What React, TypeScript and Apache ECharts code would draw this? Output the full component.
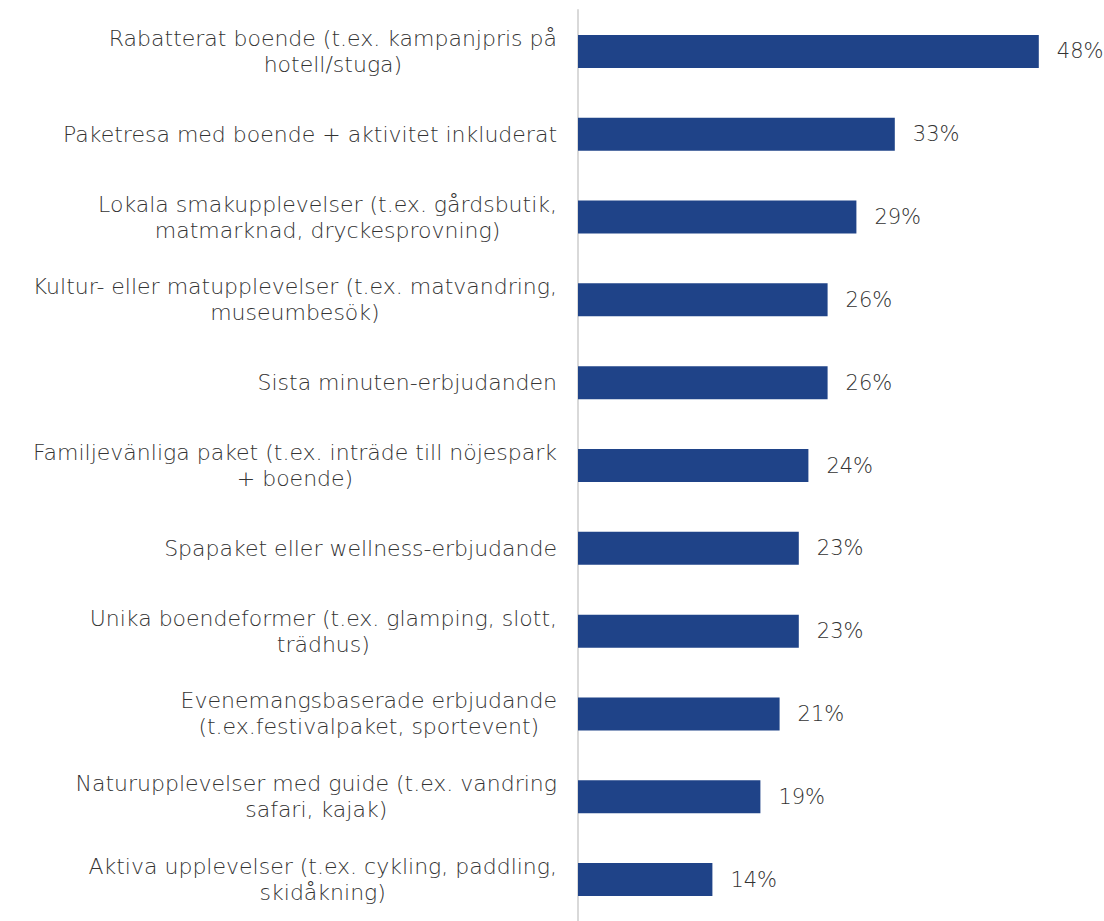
import React, { useEffect, useRef } from "react";
import * as echarts from "echarts";

const categories: string[][] = [
  ["Rabatterat boende (t.ex. kampanjpris på", "hotell/stuga)"],
  ["Paketresa med boende + aktivitet inkluderat"],
  ["Lokala smakupplevelser (t.ex. gårdsbutik,", "matmarknad, dryckesprovning)"],
  ["Kultur- eller matupplevelser (t.ex. matvandring,", "museumbesök)"],
  ["Sista minuten-erbjudanden"],
  ["Familjevänliga paket (t.ex. inträde till nöjespark", "+ boende)"],
  ["Spapaket eller wellness-erbjudande"],
  ["Unika boendeformer (t.ex. glamping, slott,", "trädhus)"],
  ["Evenemangsbaserade erbjudande", "(t.ex.festivalpaket, sportevent)"],
  ["Naturupplevelser med guide (t.ex. vandring", "safari, kajak)"],
  ["Aktiva upplevelser (t.ex. cykling, paddling,", "skidåkning)"],
];

const values: number[] = [48, 33, 29, 26, 26, 24, 23, 23, 21, 19, 14];

const FONT = "'DejaVu Sans', sans-serif";
const TEXT_COLOR = "#333333";

export default function App() {
  const ref = useRef<HTMLDivElement>(null);
  useEffect(() => {
    if (!ref.current) return;
    const chart = echarts.init(ref.current, undefined, { renderer: "svg" });
    const catNames = categories.map((c) => c.join("\n"));
    chart.setOption({
      animation: false,
      backgroundColor: "#ffffff",
      grid: { left: 578, right: 46, top: 10, bottom: -5, containLabel: false },
      xAxis: {
        type: "value",
        min: 0,
        max: 50,
        show: false,
      },
      yAxis: {
        type: "category",
        inverse: true,
        data: catNames,
        axisLine: { show: true, lineStyle: { color: "#d9d9d9", width: 2 } },
        axisTick: { show: false },
        axisLabel: {
          margin: 21,
          align: "right",
          fontFamily: FONT,
          fontSize: 22,
          fontWeight: 200,
          color: TEXT_COLOR,
          lineHeight: 26,
          formatter: (v: string) =>
            v
              .split("\n")
              .map((l) => "{c|" + l + "}")
              .join("\n"),
          rich: {
            c: {
              align: "center",
              fontFamily: FONT,
              fontSize: 22,
              fontWeight: 200,
              color: TEXT_COLOR,
              lineHeight: 26,
            },
          },
        },
      },
      series: [
        {
          type: "bar",
          data: values,
          barWidth: 33,
          itemStyle: { color: "#1F4388" },
          label: {
            show: true,
            position: "right",
            distance: 18,
            formatter: "{c}%",
            fontFamily: FONT,
            fontSize: 21,
            fontWeight: 200,
            color: TEXT_COLOR,
          },
        },
      ],
    });
    return () => chart.dispose();
  }, []);
  return (
    <div
      ref={ref}
      style={{ position: "fixed", left: 0, top: 0, width: 1104, height: 921 }}
    />
  );
}
